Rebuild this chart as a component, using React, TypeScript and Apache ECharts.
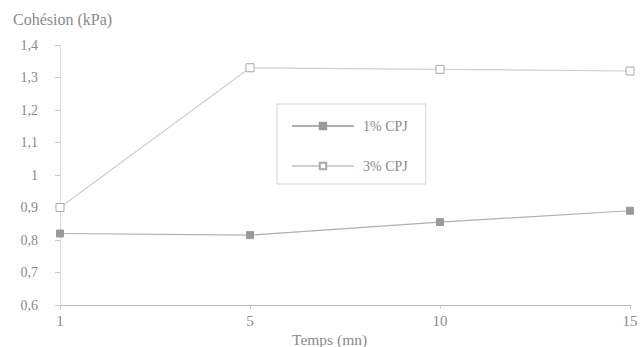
import React, { useEffect, useRef } from "react";
import * as echarts from "echarts";

const categories = ["1", "5", "10", "15"];
const cpj1 = [0.82, 0.815, 0.855, 0.89];
const cpj3 = [0.9, 1.33, 1.325, 1.32];
const seriesNames = ["1% CPJ", "3% CPJ"];
const yTitle = "Cohésion (kPa)";
const xTitle = "Temps (mn)";

const FONT = "Liberation Serif";
const TXT = "#8a8a8a";

export default function App() {
  const ref = useRef<HTMLDivElement>(null);
  useEffect(() => {
    document.body.style.margin = "0";
    if (!ref.current) return;
    const chart = echarts.init(ref.current, null, { renderer: "svg" });
    chart.setOption({
      animation: false,
      backgroundColor: "#ffffff",
      textStyle: { fontFamily: FONT },
      grid: { left: 60, right: 11, top: 45, bottom: 42, containLabel: false, outerBoundsMode: "none" },
      title: [
        {
          text: yTitle,
          left: 13,
          top: 11,
          padding: 0,
          textStyle: { color: TXT, fontSize: 16, fontWeight: "normal", fontFamily: FONT },
        },
        {
          text: xTitle,
          left: 292,
          top: 331,
          padding: 0,
          textStyle: { color: TXT, fontSize: 15.5, fontWeight: "normal", fontFamily: FONT },
        },
      ],
      legend: {
        orient: "vertical",
        left: 277,
        top: 104,
        padding: [15, 18, 11, 14],
        itemGap: 26,
        itemWidth: 62,
        itemHeight: 8,
        borderColor: "#d4d4d4",
        borderWidth: 1,
        textStyle: { color: TXT, fontSize: 14, fontFamily: FONT, padding: [0, 0, 0, 4] },
        data: seriesNames,
      },
      xAxis: {
        type: "category",
        data: categories,
        boundaryGap: false,
        axisLine: { lineStyle: { color: "#b8b8b8", width: 1 } },
        axisTick: { show: true, inside: false, length: 4, lineStyle: { color: "#c8c8c8" } },
        axisLabel: { color: TXT, fontSize: 15, fontFamily: FONT, margin: 8 },
        splitLine: { show: false },
      },
      yAxis: {
        type: "value",
        min: 0.6,
        max: 1.4,
        interval: 0.1,
        axisLine: { show: true, lineStyle: { color: "#dcdcdc", width: 1 } },
        axisTick: { show: true, length: 5, lineStyle: { color: "#c8c8c8" } },
        axisLabel: {
          color: TXT,
          fontSize: 14,
          fontFamily: FONT,
          margin: 22,
          formatter: (v: number) => String(Math.round(v * 10) / 10).replace(".", ","),
        },
        splitLine: { show: false },
      },
      series: [
        {
          name: seriesNames[0],
          type: "line",
          data: cpj1,
          symbol: "rect",
          symbolSize: 7,
          itemStyle: { color: "#9a9a9a", borderColor: "#9a9a9a", borderWidth: 1 },
          lineStyle: { color: "#b0b0b0", width: 1.2 },
        },
        {
          name: seriesNames[1],
          type: "line",
          data: cpj3,
          symbol: "rect",
          symbolSize: 8,
          showAllSymbol: true,
          itemStyle: { color: "#ffffff", borderColor: "#a8a8a8", borderWidth: 1 },
          lineStyle: { color: "#cfcfcf", width: 1.2 },
        },
      ],
    });
    return () => chart.dispose();
  }, []);
  return <div ref={ref} style={{ width: 641, height: 347 }} />;
}
